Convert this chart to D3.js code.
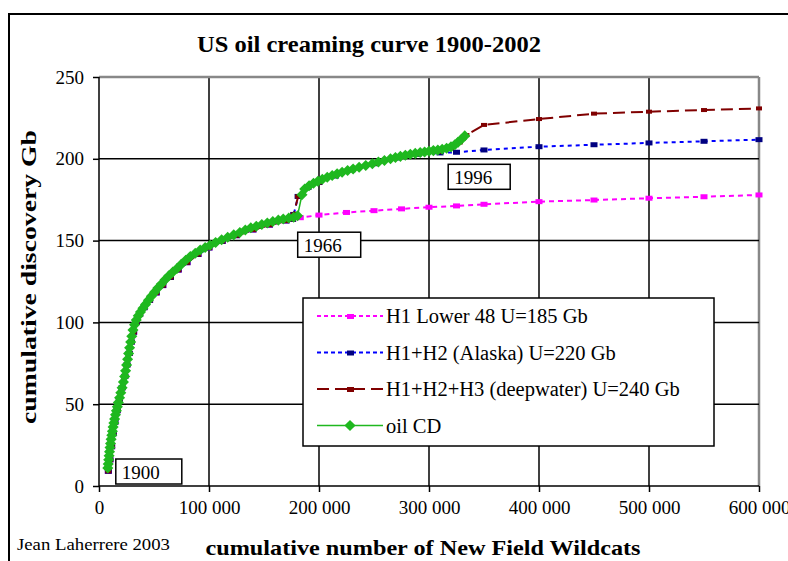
<!DOCTYPE html>
<html>
<head>
<meta charset="utf-8">
<script src="https://cdn.jsdelivr.net/npm/d3@7"></script>
<style>
  body { margin: 0; background: #fff; }
  text { font-family: "Liberation Serif", "Times New Roman", serif; }
</style>
</head>
<body>
<div id="chart"></div>
<script>
// cumulative new field wildcats (thousands) and cumulative discovery (Gb), one point per year 1900-2002
const cdYears = d3.range(1900, 2003);
const cdWells = [8.0, 8.4, 8.8, 9.2, 9.6, 10.0, 10.5, 11.0, 11.6, 12.2,
  12.8, 13.5, 14.2, 15.0, 15.8, 16.7, 17.6, 18.7, 19.8, 21.0,
  22.2, 23.3, 24.2, 25.1, 26.0, 26.9, 27.8, 28.8, 29.8, 30.9,
  32.3, 33.9, 35.7, 37.7, 39.9, 42.3, 44.9, 47.6, 50.5, 53.5,
  56.7, 60, 63.5, 67.1, 70.9, 74.8, 78.8, 83.0, 87.5, 92.0,
  96.5, 101, 106, 111.5, 117, 122.5, 128, 133, 138, 143,
  148, 153, 158, 163, 167.5, 172.5, 177, 180.5, 184.5, 187,
  191, 195, 199, 203, 207.5, 212, 216.5, 221, 226, 231,
  236.5, 242.5, 248.5, 254, 259.5, 265, 269.5, 274, 278.5, 283,
  287.5, 292, 296, 300, 304, 308, 312, 316, 320, 323.5,
  326.5, 329.5, 332.5];
const cdDisc = [11, 13.5, 16, 18.5, 21, 23.5, 26, 28.5, 31, 33.5,
  36, 38.5, 41, 43.5, 46, 48.5, 51, 54, 57, 60,
  63.5, 67, 70.5, 74, 77.5, 81, 84.5, 88, 91.5, 95.3,
  98.6, 101.5, 104, 106.3, 108.6, 111, 113.5, 116, 118.5, 121,
  123.5, 126, 128.5, 130.8, 133, 135.5, 138, 140.3, 142.3, 144.2,
  145.8, 147.2, 148.8, 150.5, 152, 153.5, 155, 156.5, 157.8, 158.8,
  159.8, 160.8, 161.7, 162.5, 163.2, 163.8, 164.3, 165.2, 178, 181.5,
  183.5, 185, 186.3, 187.5, 188.7, 189.8, 190.8, 191.8, 192.8, 193.8,
  194.8, 195.9, 197, 198, 199, 200, 200.8, 201.5, 202.2, 202.8,
  203.3, 203.8, 204.2, 204.6, 205, 205.4, 205.8, 206.4, 207.3, 208.6,
  210.2, 212, 214];

// fitted history shared by the three models (thousands of wells, Gb)
const fitWells = [8.5, 10, 11.5, 13, 14.5, 16.5, 18.5, 21, 23.5, 25.5, 27.5, 29.5, 31.5, 34, 37, 41,
  46, 52, 58, 65, 72, 80, 90, 100, 112, 125, 140, 155, 170, 176];
const fitDisc = [9, 16, 24, 32, 39, 46, 53, 60, 67, 74, 81, 88, 94, 100, 105, 109,
  113.5, 118, 122.5, 127.5, 132, 136.5, 141.5, 145.5, 149.5, 153, 156.5, 159.5, 162, 163];

// H1 Lower 48 continuation
const h1Wells = [183, 200, 225, 250, 275, 300, 325, 350, 400, 450, 500, 550, 600];
const h1Disc = [164, 165.6, 167.2, 168.3, 169.4, 170.4, 171.2, 172.2, 173.8, 174.8, 175.9, 176.8, 177.9];
// H1+H2 (Alaska) continuation
const h2Wells = [177, 181, 190, 200, 215, 230, 250, 270, 290, 310, 325, 350, 400, 450, 500, 550, 600];
const h2Disc = [166, 177, 182.5, 185.5, 189.5, 193.3, 197, 200.5, 202.8, 203.6, 204, 205.4, 207.4, 208.6, 209.7, 210.7, 211.7];
// H1+H2+H3 (deepwater) continuation
const h3Wells = [177, 181, 190, 200, 215, 230, 250, 270, 290, 310, 320, 328, 334, 350, 400, 450, 500, 550, 600];
const h3Disc = [166, 177, 182.5, 185.5, 189.5, 193.3, 197, 200.5, 202.8, 204.3, 206.5, 210, 214.5, 220.7, 224.3, 227.6, 228.8, 229.8, 230.8];

const xTicks = [0, 100000, 200000, 300000, 400000, 500000, 600000];
const yTicks = [0, 50, 100, 150, 200, 250];
const legendLabels = ["H1 Lower 48 U=185 Gb", "H1+H2 (Alaska) U=220 Gb",
  "H1+H2+H3 (deepwater) U=240 Gb", "oil CD"];
const notes = [{year: 1900, dx: 8, dy: -9, w: 66}, {year: 1966, dx: 4, dy: 15, w: 63}, {year: 1996, dx: 6, dy: 15, w: 62}];

const width = 788, height = 561;
const svg = d3.select("#chart").append("svg")
  .attr("width", width).attr("height", height);

svg.append("rect").attr("x", 9).attr("y", 14).attr("width", 800).attr("height", 600)
  .attr("fill", "none").attr("stroke", "#000").attr("stroke-width", 2);

const x = d3.scaleLinear().domain([0, 600000]).range([99, 759]);
const y = d3.scaleLinear().domain([0, 250]).range([486, 77]);

// grid
svg.append("g").selectAll("line").data(xTicks.slice(1))
  .join("line")
  .attr("x1", d => x(d)).attr("x2", d => x(d)).attr("y1", y(0)).attr("y2", y(250))
  .attr("stroke", d => d === 600000 ? "#888" : "#000").attr("stroke-width", d => d === 600000 ? 2.5 : 1.5);
svg.append("g").selectAll("line").data(yTicks.slice(1))
  .join("line")
  .attr("x1", x(0)).attr("x2", x(600000)).attr("y1", d => y(d)).attr("y2", d => y(d))
  .attr("stroke", d => d === 250 ? "#888" : "#000").attr("stroke-width", d => d === 250 ? 2.5 : 1.5);

const fmt = d => d3.format(",")(d).replace(/,/g, " ");
const xAxis = svg.append("g").attr("transform", `translate(0,${y(0)})`)
  .call(d3.axisBottom(x).tickValues(xTicks).tickSize(6).tickPadding(9).tickFormat(fmt));
const yAxis = svg.append("g").attr("transform", `translate(${x(0)},0)`)
  .call(d3.axisLeft(y).tickValues(yTicks).tickSize(6).tickPadding(9));
[xAxis, yAxis].forEach(g => {
  g.selectAll("path, line").attr("stroke", "#000").attr("stroke-width", 1.5);
  g.selectAll("text").attr("font-family", "Liberation Serif").attr("font-size", 19).attr("fill", "#000");
});
yAxis.select(".domain").attr("d", `M0,${y(0)}V${y(250)}`);
xAxis.select(".domain").attr("d", `M${x(0)},0H${x(600000)}`);

const line = d3.line().x(d => x(d[0] * 1000)).y(d => y(d[1]));
const zip = (a, b) => a.map((v, i) => [v, b[i]]);

const models = [
  {pts: zip(fitWells, fitDisc).concat(zip(h1Wells, h1Disc)), line: "#ff00ff", mark: "#ff00ff", dash: "5,4", mw: 7, mh: 5},
  {pts: zip(fitWells, fitDisc).concat(zip(h2Wells, h2Disc)), line: "#0000ff", mark: "#000080", dash: "4,4", mw: 7, mh: 5},
  {pts: zip(fitWells, fitDisc).concat(zip(h3Wells, h3Disc)), line: "#800000", mark: "#800000", dash: "12,6", mw: 6, mh: 4}
];
models.forEach(m => {
  svg.append("path").datum(m.pts).attr("d", line)
    .attr("fill", "none").attr("stroke", m.line).attr("stroke-width", 2).attr("stroke-dasharray", m.dash);
  svg.append("g").selectAll("rect").data(m.pts).join("rect")
    .attr("x", d => x(d[0] * 1000) - m.mw / 2).attr("y", d => y(d[1]) - m.mh / 2)
    .attr("width", m.mw).attr("height", m.mh).attr("fill", m.mark);
});

const cd = zip(cdWells, cdDisc);
const green = "#1fb81f";
svg.append("path").datum(cd).attr("d", line)
  .attr("fill", "none").attr("stroke", green).attr("stroke-width", 1.5);
const diamond = d3.symbol().type(d3.symbolDiamond2).size(78);
svg.append("g").selectAll("path").data(cd).join("path")
  .attr("transform", d => `translate(${x(d[0] * 1000)},${y(d[1])})`)
  .attr("d", diamond).attr("fill", green);

// year notes
notes.forEach(n => {
  const i = cdYears.indexOf(n.year);
  const px = x(cdWells[i] * 1000) + n.dx, py = y(cdDisc[i]) + n.dy;
  svg.append("rect").attr("x", px).attr("y", py).attr("width", n.w).attr("height", 25)
    .attr("fill", "#fff").attr("stroke", "#000").attr("stroke-width", 1.5);
  svg.append("text").attr("x", px + 6).attr("y", py + 20).attr("font-size", 19).text(n.year);
});

// legend
const lg = svg.append("g");
lg.append("rect").attr("x", 303).attr("y", 298).attr("width", 411).attr("height", 148)
  .attr("fill", "#fff").attr("stroke", "#000").attr("stroke-width", 1.5);
const legStyles = [
  {c: "#ff00ff", m: "#ff00ff", dash: "4,3"},
  {c: "#0000ff", m: "#000080", dash: "4,3"},
  {c: "#800000", m: "#800000", dash: "12,6"},
  {c: green, m: green, dash: null}
];
legendLabels.forEach((t, i) => {
  const ly = 316 + i * 36.5;
  const s = legStyles[i];
  lg.append("line").attr("x1", 317).attr("x2", 383).attr("y1", ly).attr("y2", ly)
    .attr("stroke", s.c).attr("stroke-width", i === 3 ? 1.5 : 2).attr("stroke-dasharray", s.dash);
  if (i === 3) {
    lg.append("path").attr("transform", `translate(350,${ly})`).attr("d", d3.symbol().type(d3.symbolDiamond2).size(80)).attr("fill", green);
  } else {
    lg.append("rect").attr("x", 347).attr("y", ly - 2).attr("width", 7).attr("height", 5).attr("fill", s.m);
  }
  lg.append("text").attr("x", 386).attr("y", ly + 7).attr("font-size", 20.5).text(t);
});

// titles
svg.append("text").attr("x", 369).attr("y", 52).attr("text-anchor", "middle")
  .attr("font-size", 23).attr("font-weight", "bold")
  .attr("textLength", 344).attr("lengthAdjust", "spacingAndGlyphs")
  .text("US oil creaming curve 1900-2002");
svg.append("text").attr("transform", "translate(36,277) rotate(-90)").attr("text-anchor", "middle")
  .attr("font-size", 20).attr("font-weight", "bold")
  .attr("textLength", 294).attr("lengthAdjust", "spacingAndGlyphs")
  .text("cumulative discovery Gb");
svg.append("text").attr("x", 423).attr("y", 555).attr("text-anchor", "middle")
  .attr("font-size", 22).attr("font-weight", "bold")
  .attr("textLength", 435).attr("lengthAdjust", "spacingAndGlyphs")
  .text("cumulative number of New Field Wildcats");
svg.append("text").attr("x", 17).attr("y", 550)
  .attr("font-size", 17).attr("textLength", 153).attr("lengthAdjust", "spacingAndGlyphs")
  .text("Jean Laherrere 2003");
</script>
</body>
</html>
